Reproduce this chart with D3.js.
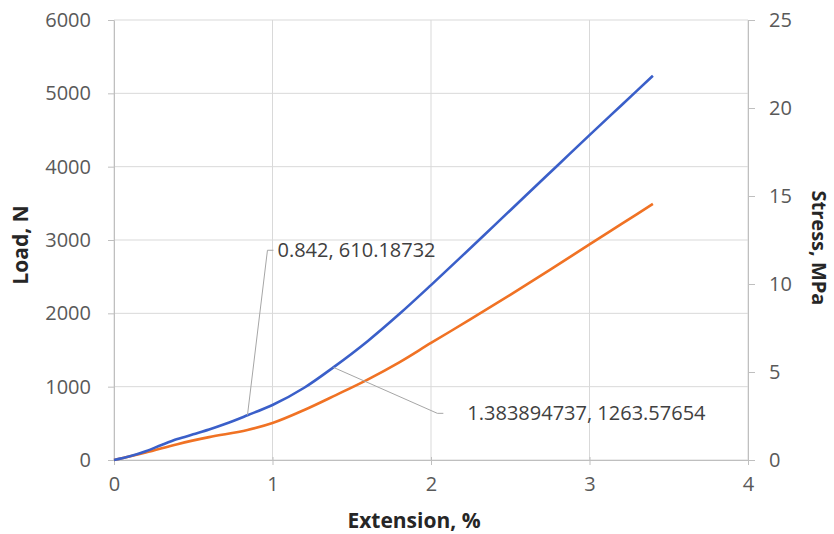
<!DOCTYPE html>
<html>
<head>
<meta charset="utf-8">
<script src="https://cdn.jsdelivr.net/npm/d3@7"></script>
<style>
  body { margin: 0; background: #fff; }
  text { font-family: "Open Sans", "Noto Sans", sans-serif; }
</style>
</head>
<body>
<script>
let width = 834
let height = 534

// extension (%) and load (N), blue curve
const loadX = [0, 0.1, 0.2, 0.3, 0.4, 0.5, 0.6, 0.7, 0.842, 1.0, 1.2, 1.384, 1.6, 1.8, 2.0, 2.2, 2.4, 2.6, 2.8, 3.0, 3.2, 3.4]
const loadY = [0, 50, 120, 205, 285, 350, 415, 490, 610, 750, 985, 1263, 1620, 1990, 2385, 2790, 3200, 3610, 4020, 4430, 4835, 5240]

// extension (%) and stress (MPa), orange curve
const stressX = [0, 0.2, 0.4, 0.6, 0.842, 1.0, 1.2, 1.4, 1.6, 1.8, 2.0, 2.25, 2.5, 2.75, 3.0, 3.2, 3.4]
const stressY = [0, 0.42, 0.9, 1.3, 1.70, 2.1, 2.84, 3.69, 4.57, 5.55, 6.65, 8.0, 9.38, 10.8, 12.25, 13.4, 14.55]

const xTicks = [0, 1, 2, 3, 4]
const loadTicks = [0, 1000, 2000, 3000, 4000, 5000, 6000]
const stressTicks = [0, 5, 10, 15, 20, 25]

// labelled points: [x, load, text]
const notes = [
  [0.842, 610.18732, "0.842, 610.18732"],
  [1.383894737, 1263.57654, "1.383894737, 1263.57654"]
]

const svg = d3.select("body")
    .append('svg')
    .attr('width', width)
    .attr('height', height)

const mLeft = 114, mRight = 748, mTop = 20, mBottom = 460

const x = d3.scaleLinear().domain([0, 4]).range([mLeft, mRight])
const yLoad = d3.scaleLinear().domain([0, 6000]).range([mBottom, mTop])
const yStress = d3.scaleLinear().domain([0, 25]).range([mBottom, mTop])

const grid = '#d9d9d9'

// gridlines
svg.append('g')
  .selectAll('line')
  .data(loadTicks)
  .enter()
  .append('line')
    .attr('x1', mLeft).attr('x2', mRight)
    .attr('y1', d => yLoad(d)).attr('y2', d => yLoad(d))
    .attr('stroke', grid)
svg.append('g')
  .selectAll('line')
  .data(xTicks)
  .enter()
  .append('line')
    .attr('x1', d => x(d)).attr('x2', d => x(d))
    .attr('y1', mTop).attr('y2', mBottom)
    .attr('stroke', grid)

function styleAxis(g) {
  g.select('.domain').attr('stroke', '#bfbfbf')
  g.selectAll('.tick line').attr('stroke', '#bfbfbf')
  g.selectAll('.tick text')
    .attr('fill', '#595959')
    .style('font-size', '20px')
}

const xAxis = svg.append('g')
  .attr('transform', `translate(0,${mBottom})`)
  .call(d3.axisBottom(x).tickValues(xTicks).tickSize(5).tickSizeOuter(0).tickPadding(12).tickFormat(d3.format('d')))
styleAxis(xAxis)
xAxis.selectAll('.tick line').attr('y1', -3)

const yAxisL = svg.append('g')
  .attr('transform', `translate(${mLeft},0)`)
  .call(d3.axisLeft(yLoad).tickValues(loadTicks).tickSize(6).tickSizeOuter(0).tickPadding(17).tickFormat(d3.format('d')))
styleAxis(yAxisL)

const yAxisR = svg.append('g')
  .attr('transform', `translate(${mRight},0)`)
  .call(d3.axisRight(yStress).tickValues(stressTicks).tickSize(7).tickSizeOuter(0).tickPadding(14))
styleAxis(yAxisR)

// curves
const loadLine = d3.line()
  .x(d => x(d[0]))
  .y(d => yLoad(d[1]))
  .curve(d3.curveMonotoneX)
const stressLine = d3.line()
  .x(d => x(d[0]))
  .y(d => yStress(d[1]))
  .curve(d3.curveMonotoneX)

svg.append('path')
  .datum(stressX.map((v, i) => [v, stressY[i]]))
  .attr('d', stressLine)
  .attr('fill', 'none')
  .attr('stroke', '#f07224')
  .attr('stroke-width', 2.6)

svg.append('path')
  .datum(loadX.map((v, i) => [v, loadY[i]]))
  .attr('d', loadLine)
  .attr('fill', 'none')
  .attr('stroke', '#3a5fc9')
  .attr('stroke-width', 2.6)

// data labels with leader lines
const offsets = [
  { dx: 20, dy: -165, hx: 6, tx: 10 },
  { dx: 104, dy: 46, hx: 6, tx: 30 }
]
notes.forEach((n, i) => {
  const px = x(n[0]), py = yLoad(n[1])
  const o = offsets[i]
  const ex = px + o.dx, ey = py + o.dy
  svg.append('path')
    .attr('d', `M${px},${py}L${ex},${ey}L${ex + o.hx},${ey}`)
    .attr('fill', 'none')
    .attr('stroke', '#a6a6a6')
    .attr('stroke-width', 1)
  svg.append('text')
    .attr('x', ex + o.tx)
    .attr('y', ey)
    .attr('dy', '0.35em')
    .attr('fill', '#404040')
    .style('font-size', '20px')
    .text(n[2])
})

// axis titles
svg.append('text')
  .attr('x', 414)
  .attr('y', 528)
  .attr('text-anchor', 'middle')
  .style('font-size', '21px')
  .style('font-weight', 'bold')
  .attr('fill', '#262626')
  .text('Extension, %')

svg.append('text')
  .attr('transform', 'translate(21,245) rotate(-90)')
  .attr('text-anchor', 'middle')
  .attr('dy', '0.35em')
  .style('font-size', '21px')
  .style('font-weight', 'bold')
  .attr('fill', '#262626')
  .text('Load, N')

svg.append('text')
  .attr('transform', 'translate(819,248) rotate(90)')
  .attr('text-anchor', 'middle')
  .attr('dy', '0.35em')
  .style('font-size', '20px')
  .style('font-weight', 'bold')
  .attr('fill', '#262626')
  .text('Stress, MPa')
</script>
</body>
</html>
